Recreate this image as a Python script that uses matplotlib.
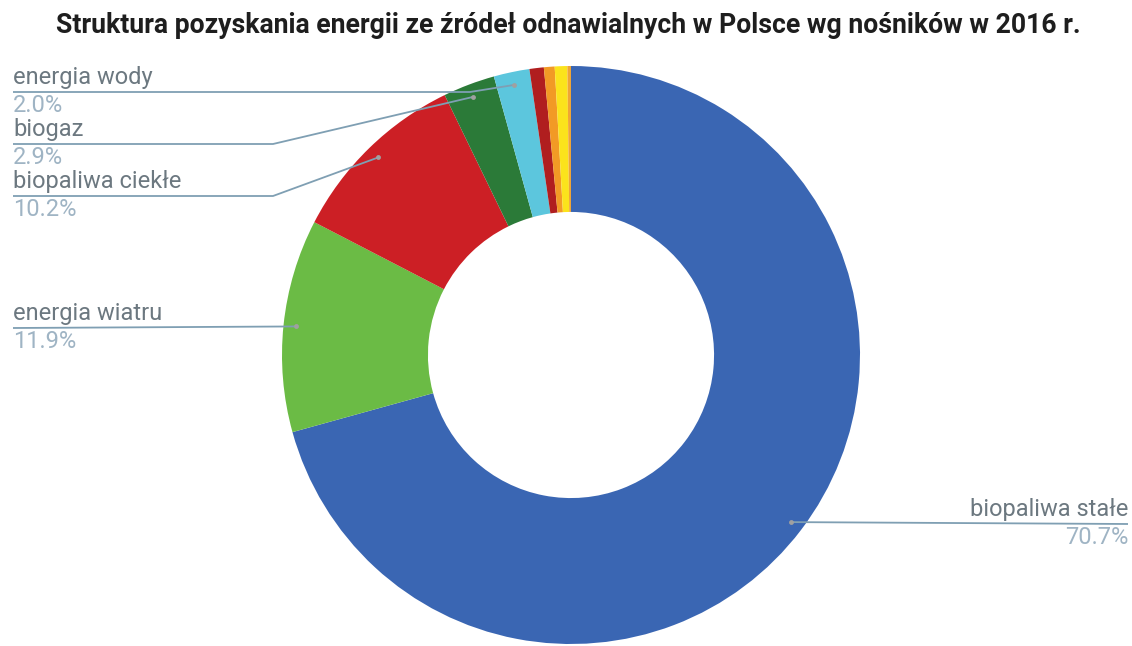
import numpy as np
import matplotlib.pyplot as plt

plt.rcParams['font.family'] = ['Roboto', 'DejaVu Sans']

# data (clockwise from the top)
categories = ['biopaliwa stałe', 'energia wiatru', 'biopaliwa ciekłe', 'biogaz',
              'energia wody', 'pompy ciepła', 'energia słoneczna',
              'odpady komunalne', 'energia geotermalna']
shares = [70.7, 11.9, 10.2, 2.9, 2.0, 0.8, 0.6, 0.7, 0.2]
colors = ['#3a66b3', '#6bbb45', '#cc1f25', '#2b7a38', '#5cc6dd',
          '#b01e1f', '#f29a25', '#fbe31c', '#f0a535']
labelled = ['energia wody', 'biogaz', 'biopaliwa ciekłe', 'energia wiatru', 'biopaliwa stałe']

W, H = 1132, 646
fig = plt.figure(figsize=(W / 100, H / 100), dpi=100)
ax = fig.add_axes([0, 0, 1, 1])

# work in pixel units, y up
cx, cy, R = 571, H - 355, 289
wedges, _ = ax.pie(shares, colors=colors, startangle=90, counterclock=False,
                   center=(cx, cy), radius=R,
                   wedgeprops=dict(width=R * 0.505, linewidth=0))
ax.set_xlim(0, W)
ax.set_ylim(0, H)
ax.set_aspect('auto')
ax.axis('off')

# label layout: (line y from top, elbow x, side)
layout = {
    'energia wody': (92, 470, 'left'),
    'biogaz': (144, 273, 'left'),
    'biopaliwa ciekłe': (196, 273, 'left'),
    'energia wiatru': (328, None, 'left'),
    'biopaliwa stałe': (524, None, 'right'),
}

line_col = '#7f9fb3'
name_col = '#6c7880'
pct_col = '#9fb4c4'

for name in labelled:
    i = categories.index(name)
    w = wedges[i]
    mid = np.deg2rad((w.theta1 + w.theta2) / 2)
    dx = cx + 0.955 * R * np.cos(mid)
    dy = cy + 0.955 * R * np.sin(mid)
    ly, ex, side = layout[name]
    ly = H - ly
    if side == 'left':
        x0 = 13
        if ex is None:
            xs, ys = [x0, dx], [ly, dy]
        else:
            xs, ys = [x0, ex, dx], [ly, ly, dy]
        ha = 'left'
    else:
        x0 = 1128
        xs, ys = [dx, x0], [dy, ly]
        ha = 'right'
    ax.plot(xs, ys, color=line_col, lw=1.3, solid_capstyle='butt')
    ax.plot(dx, dy, 'o', ms=3.5, color='#a0a0a0', mec='none')
    ax.text(x0, ly + 3, name, ha=ha, va='bottom', fontsize=17, color=name_col)
    ax.text(x0, ly - 2, f'{shares[i]:.1f}%', ha=ha, va='top', fontsize=17, color=pct_col)

fig.text(56 / W, 1 - 33 / H,
         'Struktura pozyskania energii ze źródeł odnawialnych w Polsce wg nośników w 2016 r.',
         ha='left', va='baseline', fontsize=19.2, fontweight='bold', color='#1e1e1e')

fig.savefig('out.png', dpi=100)
